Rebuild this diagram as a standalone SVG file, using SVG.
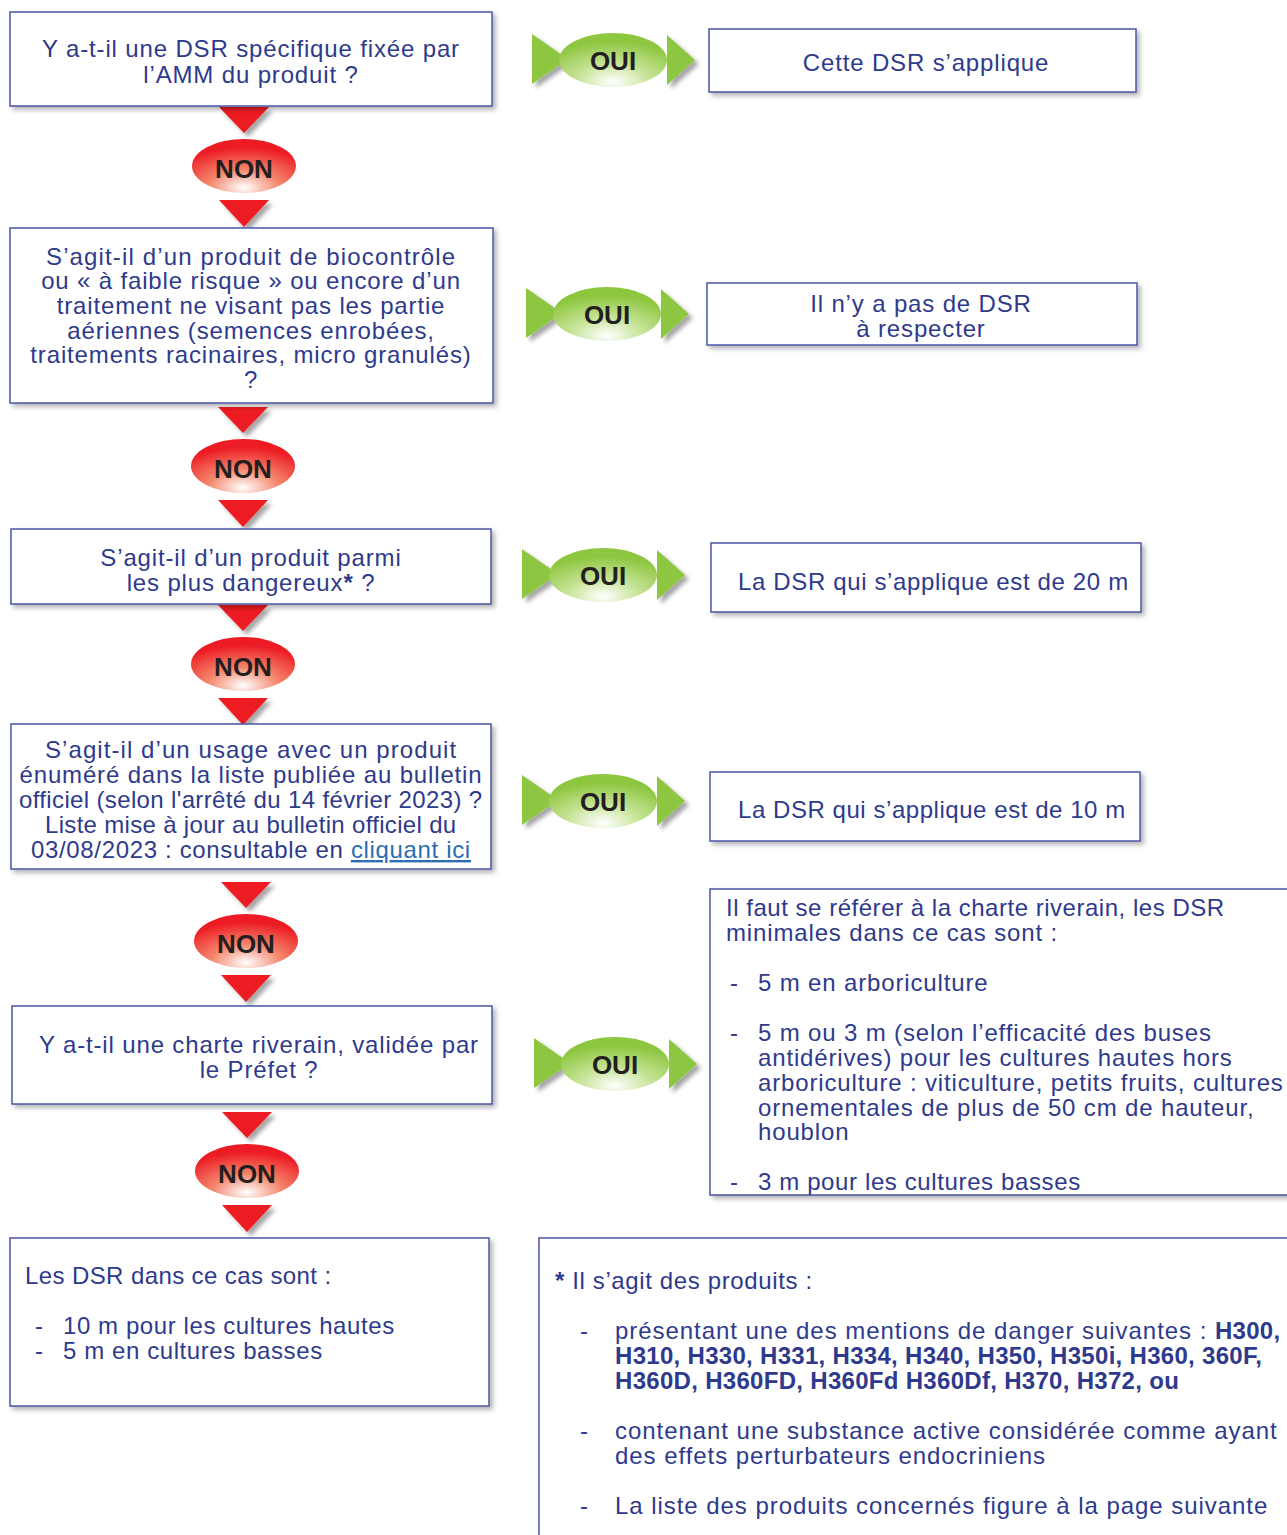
<svg xmlns="http://www.w3.org/2000/svg" xmlns:xlink="http://www.w3.org/1999/xlink" width="1287" height="1535" viewBox="0 0 1287 1535">
<defs>
<style>
.box{fill:#fff;stroke:#4b56a5;stroke-width:1.5;filter:url(#sh)}
.t{font-family:"Liberation Sans",Arial,sans-serif;font-size:24px;fill:#2e3a8c;letter-spacing:0.85px}
.n{font-family:"Liberation Sans",Arial,sans-serif;font-size:24px;fill:#2e3a8c;letter-spacing:0.95px}
.c{text-anchor:middle}
.b{font-weight:bold}
.nb{font-weight:bold;letter-spacing:0.3px}
.lbl{font-family:"Liberation Sans",Arial,sans-serif;font-weight:bold;font-size:26px;fill:#231f20;text-anchor:middle}
.gtri{fill:#8dc63f;filter:url(#sh2)}
.rtri{fill:#ed1c24;filter:url(#sh2)}
.link{fill:#2a6db0;text-decoration:underline}
</style>
<filter id="sh" x="-5%" y="-5%" width="115%" height="120%">
<feDropShadow dx="3" dy="3" stdDeviation="2.5" flood-color="#000" flood-opacity="0.3"/>
</filter>
<filter id="sh2" x="-30%" y="-30%" width="170%" height="170%">
<feDropShadow dx="4" dy="4" stdDeviation="2" flood-color="#000" flood-opacity="0.35"/>
</filter>
<radialGradient id="gG" cx="0.5" cy="0.9" r="0.75">
<stop offset="0" stop-color="#ffffff"/>
<stop offset="0.45" stop-color="#c6e396"/>
<stop offset="1" stop-color="#8dc63f"/>
</radialGradient>
<radialGradient id="gR" cx="0.5" cy="0.9" r="0.75">
<stop offset="0" stop-color="#ffffff"/>
<stop offset="0.45" stop-color="#f4866c"/>
<stop offset="1" stop-color="#ed1c24"/>
</radialGradient>
<g id="oui">
<polygon class="gtri" points="-81,-26 -81,24 -45,-1"/>
<polygon class="gtri" points="54,-25 54,25 82,0"/>
<ellipse cx="0" cy="0" rx="54" ry="27" fill="url(#gG)"/>
</g>
<g id="non">
<polygon class="rtri" points="-25,-59 25,-59 0,-33"/>
<polygon class="rtri" points="-25,34 25,34 0,61"/>
<ellipse cx="0" cy="0" rx="52" ry="27" fill="url(#gR)"/>
</g>
</defs>
<rect width="1287" height="1535" fill="#fff"/>

<g id="connectors">
<g id="oui1"><use href="#oui" x="613" y="60"/><text class="lbl" x="613" y="70">OUI</text></g>
<g id="oui2"><use href="#oui" x="607" y="314"/><text class="lbl" x="607" y="324">OUI</text></g>
<g id="oui3"><use href="#oui" x="603" y="575"/><text class="lbl" x="603" y="585">OUI</text></g>
<g id="oui4"><use href="#oui" x="603" y="801"/><text class="lbl" x="603" y="811">OUI</text></g>
<g id="oui5"><use href="#oui" x="615" y="1064"/><text class="lbl" x="615" y="1074">OUI</text></g>
<g id="non1"><use href="#non" x="244" y="166"/><text class="lbl" x="244" y="178">NON</text></g>
<g id="non2"><use href="#non" x="243" y="466"/><text class="lbl" x="243" y="478">NON</text></g>
<g id="non3"><use href="#non" x="243" y="664"/><text class="lbl" x="243" y="676">NON</text></g>
<g id="non4"><use href="#non" x="246" y="941"/><text class="lbl" x="246" y="953">NON</text></g>
<g id="non5"><use href="#non" x="247" y="1171"/><text class="lbl" x="247" y="1183">NON</text></g>
</g>

<g id="q1">
<rect class="box" x="10" y="12" width="482" height="94"/>
<text class="t c" x="251" y="57">Y a-t-il une DSR spécifique fixée par</text>
<text class="t c" x="251" y="83">l’AMM du produit ?</text>
</g>
<g id="q2">
<rect class="box" x="10" y="228" width="483" height="175"/>
<text class="t c" x="251" y="265" textLength="410" lengthAdjust="spacing">S’agit-il d’un produit de biocontrôle</text>
<text class="t c" x="251" y="289">ou « à faible risque » ou encore d’un</text>
<text class="t c" x="251" y="314">traitement ne visant pas les partie</text>
<text class="t c" x="251" y="339">aériennes (semences enrobées,</text>
<text class="t c" x="251" y="363">traitements racinaires, micro granulés)</text>
<text class="t c" x="251" y="388">?</text>
</g>
<g id="q3">
<rect class="box" x="11" y="529" width="480" height="75"/>
<text class="t c" x="251" y="566">S’agit-il d’un produit parmi</text>
<text class="t c" x="251" y="591">les plus dangereux<tspan class="b">*</tspan> ?</text>
</g>
<g id="q4">
<rect class="box" x="11" y="724" width="480" height="145"/>
<text class="t c" x="251" y="758" textLength="412" lengthAdjust="spacing">S’agit-il d’un usage avec un produit</text>
<text class="t c" x="251" y="783" textLength="463" lengthAdjust="spacing">énuméré dans la liste publiée au bulletin</text>
<text class="t c" x="251" y="808" textLength="464" lengthAdjust="spacing">officiel (selon l'arrêté du 14 février 2023) ?</text>
<text class="t c" x="251" y="833" textLength="412" lengthAdjust="spacing">Liste mise à jour au bulletin officiel du</text>
<text class="t c" x="251" y="858" textLength="440" lengthAdjust="spacing">03/08/2023 : consultable en <tspan class="link">cliquant ici</tspan></text>
</g>
<g id="q5">
<rect class="box" x="12" y="1006" width="480" height="98"/>
<text class="t c" x="259" y="1053">Y a-t-il une charte riverain, validée par</text>
<text class="t c" x="259" y="1078">le Préfet ?</text>
</g>
<g id="end">
<rect class="box" x="10" y="1238" width="479" height="168"/>
<text class="t" x="25" y="1284" textLength="307" lengthAdjust="spacing">Les DSR dans ce cas sont :</text>
<text class="t" x="35" y="1334">-</text>
<text class="t" x="63" y="1334" textLength="332" lengthAdjust="spacing">10 m pour les cultures hautes</text>
<text class="t" x="35" y="1359">-</text>
<text class="t" x="63" y="1359" textLength="260" lengthAdjust="spacing">5 m en cultures basses</text>
</g>

<g id="r1">
<rect class="box" x="709" y="29" width="427" height="63"/>
<text class="t c" x="926" y="71">Cette DSR s’applique</text>
</g>
<g id="r2">
<rect class="box" x="707" y="283" width="430" height="62"/>
<text class="t c" x="921" y="312">Il n’y a pas de DSR</text>
<text class="t c" x="921" y="337">à respecter</text>
</g>
<g id="r3">
<rect class="box" x="711" y="543" width="430" height="69"/>
<text class="t" x="738" y="590" textLength="391" lengthAdjust="spacing">La DSR qui s’applique est de 20 m</text>
</g>
<g id="r4">
<rect class="box" x="710" y="772" width="430" height="69"/>
<text class="t" x="738" y="818" textLength="388" lengthAdjust="spacing">La DSR qui s’applique est de 10 m</text>
</g>
<g id="r5">
<rect class="box" x="710" y="889" width="600" height="306"/>
<text class="t" x="726" y="916" textLength="499" lengthAdjust="spacing">Il faut se référer à la charte riverain, les DSR</text>
<text class="t" x="726" y="941">minimales dans ce cas sont :</text>
<text class="t" x="730" y="991">-</text>
<text class="t" x="758" y="991">5 m en arboriculture</text>
<text class="t" x="730" y="1041">-</text>
<text class="t" x="758" y="1041">5 m ou 3 m (selon l’efficacité des buses</text>
<text class="t" x="758" y="1066">antidérives) pour les cultures hautes hors</text>
<text class="t" x="758" y="1091">arboriculture : viticulture, petits fruits, cultures</text>
<text class="t" x="758" y="1116">ornementales de plus de 50 cm de hauteur,</text>
<text class="t" x="758" y="1140">houblon</text>
<text class="t" x="730" y="1190">-</text>
<text class="t" x="758" y="1190" textLength="323" lengthAdjust="spacing">3 m pour les cultures basses</text>
</g>
<g id="note">
<rect class="box" x="539" y="1238" width="800" height="400"/>
<text class="n" x="555" y="1289" textLength="258" lengthAdjust="spacing"><tspan class="b">*</tspan> Il s’agit des produits :</text>
<text class="n" x="580" y="1339">-</text>
<text class="n" x="615" y="1339">présentant une des mentions de danger suivantes : <tspan class="nb">H300,</tspan></text>
<text class="n nb" x="615" y="1364">H310, H330, H331, H334, H340, H350, H350i, H360, 360F,</text>
<text class="n nb" x="615" y="1389">H360D, H360FD, H360Fd H360Df, H370, H372, ou</text>
<text class="n" x="580" y="1439">-</text>
<text class="n" x="615" y="1439">contenant une substance active considérée comme ayant</text>
<text class="n" x="615" y="1464">des effets perturbateurs endocriniens</text>
<text class="n" x="580" y="1514">-</text>
<text class="n" x="615" y="1514">La liste des produits concernés figure à la page suivante</text>
</g>
</svg>
